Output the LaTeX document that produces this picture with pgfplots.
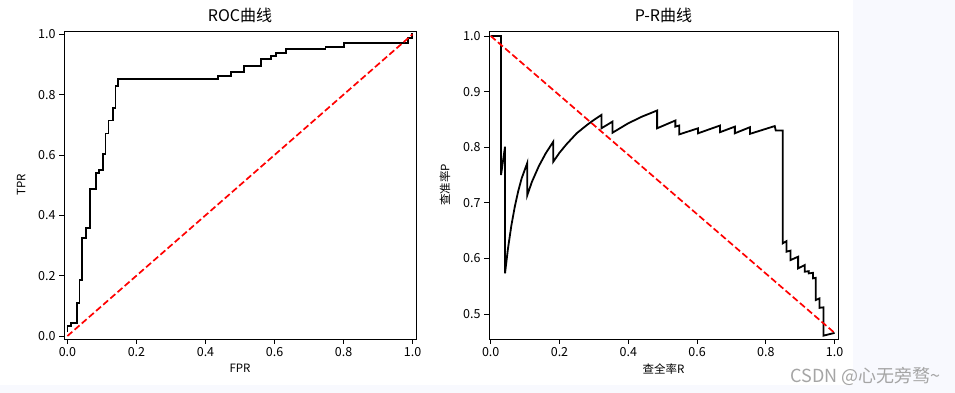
\documentclass[border=0pt]{standalone}
\usepackage{pgfplots}
\pgfplotsset{compat=1.18}
\usepackage{fontspec}
\setmainfont{Noto Sans CJK SC}
\definecolor{bgc}{RGB}{248,249,254}
\definecolor{wm}{RGB}{165,165,165}
\pgfplotsset{
  myax/.style={
    scale only axis,
    anchor=south west,
    axis line style={black, line width=0.9pt},
    tick pos=left, tick align=outside,
    major tick length=5pt,
    every tick/.style={black, line width=0.9pt},
    tick label style={font=\fontsize{12.5}{14}\selectfont},
    /pgf/number format/assume math mode=true,
    /pgf/number format/.cd, fixed, fixed zerofill, precision=1, /pgfplots/.cd,
    label style={font=\fontsize{11.5}{13}\selectfont},
    ylabel style={xshift=0pt, yshift=6pt},
    title style={font=\fontsize{16}{18}\selectfont, yshift=-1pt},
    clip=true,
  }
}
\begin{document}
\begin{tikzpicture}[x=1pt,y=1pt]
\fill[bgc] (0,0) rectangle (955,393);
\fill[white] (0,8) rectangle (853,393);
\begin{axis}[myax, at={(64pt,54pt)}, width=352pt, height=308pt,
  xmin=-0.01, xmax=1.01, ymin=-0.01, ymax=1.011,
  xtick={0,0.2,0.4,0.6,0.8,1.0}, ytick={0,0.2,0.4,0.6,0.8,1.0},
  title={ROC曲线}, xlabel={FPR}, ylabel={TPR}]
\addplot[black, line width=1.8pt, line join=miter] coordinates {
(0,0.012) (0,0.033) (0.0106,0.033) (0.0106,0.044) (0.027,0.044) (0.027,0.11)
(0.035,0.11) (0.035,0.186) (0.042,0.186) (0.042,0.326) (0.054,0.326) (0.054,0.359)
(0.0655,0.359) (0.0655,0.487) (0.082,0.487) (0.082,0.541) (0.0925,0.541) (0.0925,0.55)
(0.102,0.55) (0.102,0.603) (0.110,0.603) (0.110,0.671) (0.119,0.671) (0.119,0.714)
(0.131,0.714) (0.131,0.757) (0.139,0.757) (0.139,0.829) (0.147,0.829) (0.147,0.853)
(0.437,0.853) (0.437,0.862) (0.475,0.862) (0.475,0.874) (0.5125,0.874) (0.5125,0.896)
(0.56,0.896) (0.56,0.917) (0.589,0.917) (0.589,0.929) (0.605,0.929) (0.605,0.939)
(0.634,0.939) (0.634,0.95) (0.748,0.95) (0.748,0.958) (0.8025,0.958) (0.8025,0.972)
(0.9875,0.972) (0.9875,0.987) (0.998,0.987) (0.998,1.0) (1,1)};
\addplot[red, line width=1.7pt, dash pattern=on 6.5pt off 3pt] coordinates {(0,0) (1,1)};
\end{axis}
\begin{axis}[myax, at={(489pt,54pt)}, width=349pt, height=308pt,
  xmin=-0.005, xmax=1.01, ymin=0.455, ymax=1.009,
  xtick={0,0.2,0.4,0.6,0.8,1.0}, ytick={0.5,0.6,0.7,0.8,0.9,1.0},
  title={P-R曲线}, xlabel={查全率R}, ylabel={查准率P}]
\addplot[black, line width=1.8pt, line join=miter] coordinates {
(0,1.0) (0.030,1.0) (0.030,0.750) (0.0416,0.801) (0.0416,0.573) (0.05,0.617) (0.06,0.659)
(0.07,0.693) (0.08,0.721) (0.09,0.744) (0.1065,0.772) (0.1065,0.714) (0.12,0.738)
(0.14,0.766) (0.16,0.789) (0.182,0.810) (0.182,0.774) (0.20,0.790) (0.22,0.805)
(0.25,0.825) (0.28,0.840) (0.30,0.849) (0.322,0.858) (0.322,0.834) (0.354,0.846)
(0.354,0.826) (0.40,0.843) (0.44,0.855) (0.484,0.866) (0.484,0.834) (0.537,0.848)
(0.537,0.837) (0.548,0.839) (0.548,0.823) (0.603,0.834) (0.603,0.825) (0.667,0.839)
(0.667,0.827) (0.710,0.837) (0.710,0.825) (0.754,0.836) (0.754,0.824) (0.826,0.838)
(0.829,0.830) (0.849,0.830) (0.849,0.627) (0.860,0.631) (0.860,0.612) (0.872,0.614)
(0.872,0.597) (0.894,0.603) (0.894,0.582) (0.913,0.588) (0.913,0.576) (0.925,0.577)
(0.925,0.573) (0.937,0.574) (0.937,0.564) (0.945,0.565) (0.945,0.525) (0.956,0.528)
(0.956,0.511) (0.968,0.512) (0.968,0.461) (1.0,0.466)};
\addplot[red, line width=1.7pt, dash pattern=on 6.5pt off 3pt] coordinates {(0,1) (1,0.466)};
\end{axis}
\node[anchor=east, text=wm, font=\fontsize{18}{20}\selectfont, inner sep=0pt] at (941,17) {CSDN @心无旁骛\textasciitilde};
\end{tikzpicture}
\end{document}
